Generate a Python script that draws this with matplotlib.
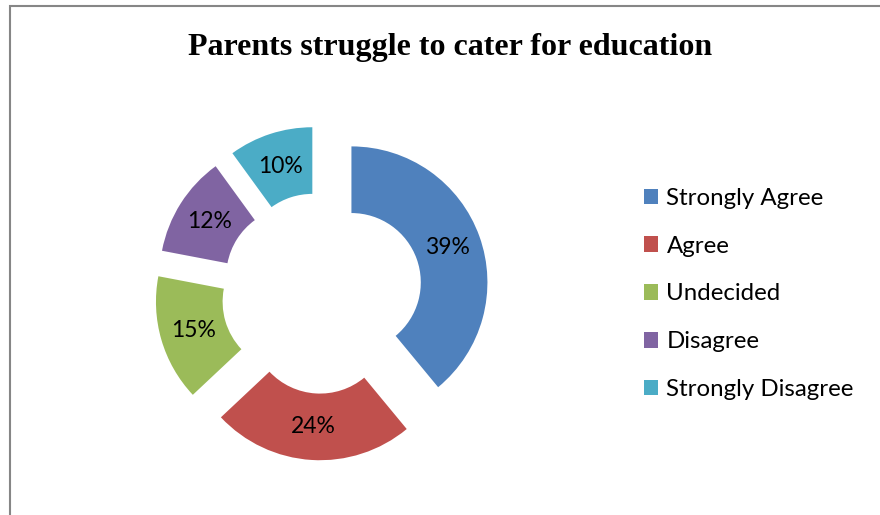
import matplotlib.pyplot as plt
from matplotlib.patches import Rectangle

# data
categories = ["Strongly Agree", "Agree", "Undecided", "Disagree", "Strongly Disagree"]
values = [39, 24, 15, 12, 10]
colors = ["#4F81BD", "#C0504D", "#9BBB59", "#8064A2", "#4BACC6"]
title = "Parents struggle to cater for education"

W, H = 880, 515
fig = plt.figure(figsize=(W / 100, H / 100), dpi=100)

# axes covering the whole figure, one data unit = pie radius in pixels
R = 136.0
cx, cy = 322.0, 293.0
ax = fig.add_axes([0, 0, 1, 1])

wedges, texts, autotexts = ax.pie(
    values,
    colors=colors,
    startangle=90,
    counterclock=False,
    explode=[0.23] * len(values),
    wedgeprops=dict(width=0.49, edgecolor="none"),
    autopct="%d%%",
    pctdistance=0.75,
    textprops=dict(family=["Lato", "DejaVu Sans"], fontsize=16.5, color="black"),
)

ax.set_xlim(-cx / R, (W - cx) / R)
ax.set_ylim(-(H - cy) / R, cy / R)
ax.axis("off")

# title
fig.text(450 / W, 1 - 47 / H, title, ha="center", va="center",
         family=["Liberation Serif", "DejaVu Serif"], fontweight="bold", fontsize=23)

# legend on the right
leg = fig.legend(wedges, categories, loc="upper left",
                 bbox_to_anchor=(622 / W, 1 - 166 / H),
                 frameon=False, handlelength=0.6, handleheight=0.6,
                 handletextpad=0.35, labelspacing=1.12,
                 prop=dict(family=["Lato", "DejaVu Sans"], size=17.3))

# gray chart border (left and top edges visible)
fig.patches.append(Rectangle((10 / W, -0.1), 1.2, 1.1 - 6 / H,
                             transform=fig.transFigure, fill=False,
                             edgecolor="#868686", linewidth=1.5))

plt.savefig("out.png", dpi=100)
